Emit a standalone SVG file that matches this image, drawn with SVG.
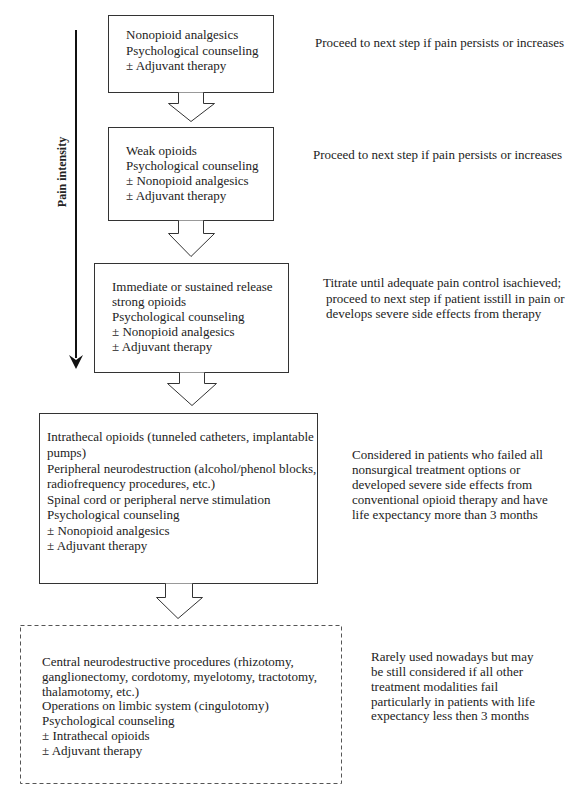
<svg xmlns="http://www.w3.org/2000/svg" width="572" height="799" viewBox="0 0 572 799">
<defs>
<style>
text{font-family:'Liberation Serif','Times New Roman','DejaVu Serif',serif;font-size:13px;fill:#222}
.b{fill:#fff;stroke:#333;stroke-width:1}
.d{fill:#fff;stroke:#555;stroke-width:1;stroke-dasharray:4 3}
.a{fill:#fff;stroke:#333;stroke-width:1}
</style>
</defs>
<rect width="572" height="799" fill="#fff"/>

<g id="axis">
<line x1="76" y1="30" x2="76" y2="358" stroke="#111" stroke-width="2"/>
<path d="M69,355 L76,360 L83,355 L76,369 Z" fill="#111"/>
<text transform="translate(66,172) rotate(-90)" text-anchor="middle" font-weight="bold" style="font-size:12px">Pain intensity</text>
</g>

<g id="step1">
<rect class="b" x="108.5" y="15.5" width="165" height="77"/>
<text x="126" y="39">Nonopioid analgesics</text>
<text x="126" y="55">Psychological counseling</text>
<text x="126" y="70">± Adjuvant therapy</text>
</g>

<g id="step2">
<rect class="b" x="108.5" y="127.5" width="165" height="93"/>
<text x="126" y="155">Weak opioids</text>
<text x="126" y="170">Psychological counseling</text>
<text x="126" y="185">± Nonopioid analgesics</text>
<text x="126" y="200">± Adjuvant therapy</text>
</g>

<g id="step3">
<rect class="b" x="94.5" y="263.5" width="194" height="109"/>
<text x="112" y="291">Immediate or sustained release</text>
<text x="112" y="306">strong opioids</text>
<text x="112" y="321">Psychological counseling</text>
<text x="112" y="336">± Nonopioid analgesics</text>
<text x="112" y="351">± Adjuvant therapy</text>
</g>

<g id="step4">
<rect class="b" x="39.5" y="413.5" width="278" height="170"/>
<text x="47" y="441">Intrathecal opioids (tunneled catheters, implantable</text>
<text x="47" y="457">pumps)</text>
<text x="47" y="473">Peripheral neurodestruction (alcohol/phenol blocks,</text>
<text x="47" y="488">radiofrequency procedures, etc.)</text>
<text x="47" y="504">Spinal cord or peripheral nerve stimulation</text>
<text x="47" y="519">Psychological counseling</text>
<text x="47" y="535">± Nonopioid analgesics</text>
<text x="47" y="550">± Adjuvant therapy</text>
</g>

<g id="step5">
<rect class="d" x="20.5" y="625.5" width="321" height="158"/>
<text x="42" y="666">Central neurodestructive procedures (rhizotomy,</text>
<text x="42" y="681">ganglionectomy, cordotomy, myelotomy, tractotomy,</text>
<text x="42" y="696">thalamotomy, etc.)</text>
<text x="42" y="710">Operations on limbic system (cingulotomy)</text>
<text x="42" y="725">Psychological counseling</text>
<text x="42" y="740">± Intrathecal opioids</text>
<text x="42" y="755">± Adjuvant therapy</text>
</g>

<g id="connectors">
<polyline class="a" points="178.5,92.5 178.5,103.5 168.5,103.5 191,121.5 214.5,103.5 203.5,103.5 203.5,92.5"/>
<polyline class="a" points="178.5,220.5 178.5,233.5 168.5,233.5 191,256.5 214.5,233.5 203.5,233.5 203.5,220.5"/>
<polyline class="a" points="179.5,372.5 179.5,383.5 167.5,383.5 192,405.5 216.5,383.5 204.5,383.5 204.5,372.5"/>
<polyline class="a" points="165.5,583.5 165.5,597.5 156.5,597.5 178,618.5 202.5,597.5 192.5,597.5 192.5,583.5"/>
</g>

<g id="notes">
<text x="315" y="47">Proceed to next step if pain persists or increases</text>
<text x="313" y="159">Proceed to next step if pain  persists or increases</text>
<text x="323" y="287">Titrate until adequate pain control isachieved;</text>
<text x="326" y="303">proceed to next step if patient isstill in pain or</text>
<text x="326" y="318">develops severe side effects from therapy</text>
<text x="352" y="459">Considered in patients who failed all</text>
<text x="352" y="474">nonsurgical treatment options or</text>
<text x="352" y="489">developed severe side effects from</text>
<text x="352" y="504">conventional opioid therapy and have</text>
<text x="352" y="519">life expectancy more than 3 months</text>
<text x="371" y="661">Rarely used nowadays but may</text>
<text x="371" y="676">be still considered if all other</text>
<text x="371" y="691">treatment modalities fail</text>
<text x="371" y="706">particularly in patients with life</text>
<text x="371" y="720">expectancy less then 3 months</text>
</g>
</svg>
